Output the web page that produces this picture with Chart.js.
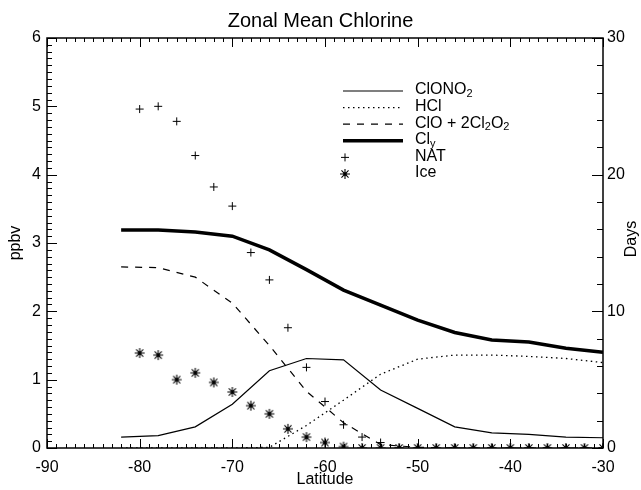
<!doctype html>
<html>
<head>
<meta charset="utf-8" />
<title>Zonal Mean Chlorine</title>
<script src="https://cdn.jsdelivr.net/npm/chart.js@4.4.1/dist/chart.umd.min.js"></script>
<style>
	html, body { margin: 0; padding: 0; background: #fff; }
	canvas { display: block; }
</style>
</head>
<body>
<canvas id="chlorineChart" width="641" height="490"></canvas>
<script>
	// model curves, every 4 degrees of latitude (ppbv, left axis)
	const lineLats = [-82, -78, -74, -70, -66, -62, -58, -54, -50, -46, -42, -38, -34, -30];
	const clono2 = [0.16, 0.18, 0.31, 0.64, 1.13, 1.31, 1.29, 0.85, 0.58, 0.31, 0.22, 0.20, 0.16, 0.15];
	const hcl = [0, 0, 0, 0, 0.01, 0.33, 0.70, 1.08, 1.30, 1.36, 1.36, 1.34, 1.31, 1.25];
	const clox = [2.65, 2.64, 2.50, 2.12, 1.50, 0.83, 0.37, 0.05, 0.01, 0, 0, 0, 0, 0];
	const cly = [3.19, 3.19, 3.16, 3.10, 2.90, 2.61, 2.31, 2.09, 1.87, 1.69, 1.58, 1.55, 1.46, 1.40];

	// PSC exposure, every 2 degrees (days, right axis)
	const pscLats = [-80, -78, -76, -74, -72, -70, -68, -66, -64, -62, -60, -58, -56,
		-54, -52, -50, -48, -46, -44, -42, -40, -38, -36, -34, -32, -30];
	const natDays = [24.8, 25.0, 23.9, 21.4, 19.1, 17.7, 14.3, 12.3, 8.8, 5.9, 3.4, 1.7, 0.8,
		0.4, 0, 0, 0, 0, 0, 0, 0, 0, 0, 0, 0, 0];
	const iceDays = [6.95, 6.8, 5.0, 5.5, 4.8, 4.1, 3.1, 2.5, 1.4, 0.8, 0.4, 0.1, 0,
		0, 0, 0, 0, 0, 0, 0, 0, 0, 0, 0, 0, 0];

	const FONT = '"Liberation Sans", Arial, Helvetica, sans-serif';
	Chart.defaults.font.family = FONT;
	Chart.defaults.color = '#000';

	const pairs = (xs, ys) => xs.map((x, i) => ({ x: x, y: ys[i] }));

	// 8-armed asterisk with a dot in the middle
	function makeAsterisk(r) {
		const c = document.createElement('canvas');
		const s = 2 * r + 2;
		c.width = c.height = s;
		const g = c.getContext('2d');
		const m = s / 2;
		g.strokeStyle = '#000';
		g.fillStyle = '#000';
		g.lineWidth = 1.1;
		g.beginPath();
		for (let k = 0; k < 4; k++) {
			const t = k * Math.PI / 4;
			g.moveTo(m - r * Math.cos(t), m - r * Math.sin(t));
			g.lineTo(m + r * Math.cos(t), m + r * Math.sin(t));
		}
		g.stroke();
		g.beginPath();
		g.arc(m, m, 1.7, 0, 2 * Math.PI);
		g.fill();
		return c;
	}
	const asterisk = makeAsterisk(5);

	const lineStyle = { borderColor: '#000', pointRadius: 0, tension: 0, fill: false };

	const datasets = [
		{ ...lineStyle, label: 'ClONO_2', data: pairs(lineLats, clono2), borderWidth: 1.2 },
		{ ...lineStyle, label: 'HCl', data: pairs(lineLats, hcl), borderWidth: 1.3, borderDash: [1.5, 3.5] },
		{ ...lineStyle, label: 'ClO + 2Cl_2O_2', data: pairs(lineLats, clox), borderWidth: 1.2, borderDash: [7, 7] },
		{ ...lineStyle, label: 'Cl_y', data: pairs(lineLats, cly), borderWidth: 3.5 },
		{
			label: 'NAT', data: pairs(pscLats, natDays), yAxisID: 'y2', showLine: false, clip: 0,
			pointStyle: 'cross', pointRadius: 4, pointBorderWidth: 1, borderColor: '#000',
		},
		{
			label: 'Ice', data: pairs(pscLats, iceDays), yAxisID: 'y2', showLine: false, clip: 0,
			pointStyle: asterisk, pointRadius: 5, borderColor: '#000',
		},
	];

	// text with "_c" marking a subscript character
	function drawRich(ctx, text, x, y) {
		text.split(/_(.)/).forEach((part, i) => {
			if (!part) return;
			const sub = i % 2 === 1;
			ctx.font = (sub ? '11px ' : '16px ') + FONT;
			ctx.fillText(part, x, sub ? y + 4 : y);
			x += ctx.measureText(part).width;
		});
	}

	// IDL-style frame: inward ticks on all four sides, legend and right axis title
	const frameAndLegend = {
		id: 'frameAndLegend',
		afterDraw(chart) {
			const { ctx, chartArea: a, scales } = chart;
			const sx = scales.x, sy = scales.y, sy2 = scales.y2;
			ctx.save();
			ctx.strokeStyle = '#000';
			ctx.fillStyle = '#000';
			ctx.lineWidth = 1;
			ctx.beginPath();
			for (let d = -90; d <= -30; d++) {
				const px = Math.round(sx.getPixelForValue(d)) + 0.5;
				const len = d % 10 === 0 ? 9 : 4;
				ctx.moveTo(px, a.bottom); ctx.lineTo(px, a.bottom - len);
				ctx.moveTo(px, a.top); ctx.lineTo(px, a.top + len);
			}
			for (let i = 0; i <= 60; i++) {
				const py = Math.round(sy.getPixelForValue(i / 10)) + 0.5;
				ctx.moveTo(a.left, py); ctx.lineTo(a.left + (i % 10 === 0 ? 10 : 5), py);
			}
			for (let d = 0; d <= 30; d += 2) {
				const py = Math.round(sy2.getPixelForValue(d)) + 0.5;
				ctx.moveTo(a.right, py); ctx.lineTo(a.right - (d % 10 === 0 ? 11 : 6), py);
			}
			ctx.stroke();
			ctx.lineWidth = 1.5;
			ctx.strokeRect(a.left, a.top, a.right - a.left, a.bottom - a.top);

			// right axis title, reading bottom to top
			ctx.save();
			ctx.translate(632, (a.top + a.bottom) / 2 - 4);
			ctx.rotate(-Math.PI / 2);
			ctx.font = '16px ' + FONT;
			ctx.textAlign = 'center';
			ctx.textBaseline = 'middle';
			ctx.fillText('Days', 0, 0);
			ctx.restore();

			// legend
			const x1 = 343, x2 = 403, textX = 415, y0 = 90, step = 16.6;
			ctx.textAlign = 'left';
			ctx.textBaseline = 'middle';
			chart.data.datasets.forEach((ds, i) => {
				const yy = y0 + i * step;
				ctx.lineWidth = 1;
				if (ds.showLine === false) {
					Chart.helpers.drawPoint(ctx, {
						pointStyle: ds.pointStyle, radius: ds.pointRadius,
						borderWidth: 1, rotation: 0,
					}, 345, yy + 1);
				} else {
					ctx.beginPath();
					ctx.lineWidth = ds.borderWidth;
					ctx.setLineDash(ds.borderDash || []);
					ctx.moveTo(x1, yy + 1);
					ctx.lineTo(x2, yy + 1);
					ctx.stroke();
					ctx.setLineDash([]);
				}
				drawRich(ctx, ds.label, textX, yy);
			});
			ctx.restore();
		},
	};

	const tickFont = { size: 16 };

	new Chart(document.getElementById('chlorineChart'), {
		type: 'line',
		data: { datasets: datasets },
		options: {
			responsive: false,
			animation: false,
			devicePixelRatio: 1,
			plugins: {
				legend: { display: false },
				tooltip: { enabled: false },
				title: {
					display: true,
					text: 'Zonal Mean Chlorine',
					font: { size: 20, weight: 'normal', lineHeight: 1.2 },
					padding: { top: 9, bottom: 5 },
					color: '#000',
				},
			},
			scales: {
				x: {
					type: 'linear', min: -90, max: -30,
					ticks: { stepSize: 10, padding: 10, font: tickFont, maxRotation: 0 },
					grid: { display: false, drawTicks: false },
					border: { display: false },
					title: { display: true, text: 'Latitude', font: tickFont, padding: { top: 0, bottom: 1 } },
					afterFit: (s) => { s.height = 42; },
				},
				y: {
					position: 'left', min: 0, max: 6,
					ticks: { stepSize: 1, padding: 6, font: tickFont },
					grid: { display: false, drawTicks: false },
					border: { display: false },
					title: { display: true, text: 'ppbv', font: tickFont, padding: { top: 6, bottom: 0 } },
					afterFit: (s) => { s.width = 47; },
				},
				y2: {
					position: 'right', min: 0, max: 30,
					ticks: { stepSize: 10, padding: 4, font: tickFont },
					grid: { display: false, drawTicks: false },
					border: { display: false },
					afterFit: (s) => { s.width = 38; },
				},
			},
		},
		plugins: [frameAndLegend],
	});
</script>
</body>
</html>
